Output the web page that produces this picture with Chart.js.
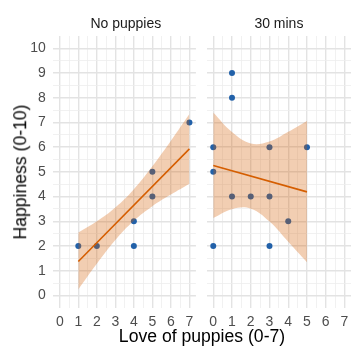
<!DOCTYPE html>
<html>
<head>
<meta charset="utf-8">
<script src="https://cdn.jsdelivr.net/npm/chart.js@4.4.1/dist/chart.umd.min.js"></script>
<style>
  html, body { margin: 0; padding: 0; background: #fff; }
  #wrap { position: relative; width: 360px; height: 360px; overflow: hidden; font-family: "Liberation Sans", Arial, sans-serif; }
  #wrap canvas { position: absolute; top: 0; }
  .lbl { position: absolute; white-space: nowrap; line-height: 1; }
  .strip { font-size: 14px; color: #1a1a1a; top: 15.7px; transform: translateX(-50%); }
  .title { font-size: 17.6px; color: #000; }
</style>
</head>
<body>
<div id="wrap">
  <canvas id="pupNone" width="200" height="360" style="left:0"></canvas>
  <canvas id="pup30" width="160" height="360" style="left:200px"></canvas>
  <div class="lbl strip" style="left:125.8px">No puppies</div>
  <div class="lbl strip" style="left:278.9px">30 mins</div>
  <div class="lbl title" style="left:202px; top:328.4px; transform:translateX(-50%)">Love of puppies (0-7)</div>
  <div class="lbl title" style="left:20.6px; top:172px; transform:translate(-50%,-50%) rotate(-90deg)">Happiness (0-10)</div>
</div>
<script>
// ─── DATA ───
const xTicks = [0, 1, 2, 3, 4, 5, 6, 7];
const yTicks = [0, 1, 2, 3, 4, 5, 6, 7, 8, 9, 10];

// panel: No puppies
const nonePts_love  = [1, 2, 4, 4, 5, 5, 7];
const nonePts_happy = [2, 2, 3, 2, 5, 4, 7];
const noneFit_x = [1, 7];
const noneFit_y = [1.37, 5.93];
const noneBand_x  = [1, 2, 3, 4, 5, 6, 7];
const noneBand_hi = [2.54, 3.00, 3.56, 4.30, 5.23, 6.26, 7.34];
const noneBand_lo = [0.24, 1.28, 2.24, 3.02, 3.61, 4.08, 4.52];

// panel: 30 mins
const minsPts_love  = [0, 0, 0, 1, 1, 1, 2, 3, 3, 3, 4, 5];
const minsPts_happy = [6, 5, 2, 9, 8, 4, 4, 6, 4, 2, 3, 6];
const minsFit_x = [0, 5];
const minsFit_y = [5.26, 4.19];
const minsBand_x  = [0, 1, 2, 3, 4, 5];
const minsBand_hi = [7.40, 6.61, 6.15, 6.23, 6.62, 7.06];
const minsBand_lo = [3.13, 3.49, 3.51, 2.99, 2.17, 1.34];

// ─── STYLE ───
const PT_COL = '#2261a9';
const FIT_COL = '#d55e00';
const BAND_COL = 'rgba(213,94,0,0.3)';
const TICK_FONT = { family: 'Liberation Sans', size: 14 };

const pairs = (xs, ys) => xs.map((x, i) => ({ x: x, y: ys[i] }));
const withMinor = arr => {
    const out = [];
    arr.forEach((v, i) => {
        out.push(v);
        if (i < arr.length - 1) out.push((v + arr[i + 1]) / 2);
    });
    return out;
};
const isMajor = v => Number.isInteger(v);

function gridOpts() {
    return {
        drawTicks: false,
        color: c => (c.tick && isMajor(c.tick.value)) ? '#e3e3e3' : '#ededed',
        lineWidth: c => (c.tick && isMajor(c.tick.value)) ? 1.4 : 0.8
    };
}

function makePanel(id, pts, fit, band, opts) {
    const xVals = withMinor(xTicks), yVals = withMinor(yTicks);
    return new Chart(document.getElementById(id), {
        type: 'scatter',
        data: {
            datasets: [
                { data: pts, backgroundColor: PT_COL, pointRadius: 3, borderWidth: 0, order: 3 },
                { data: band.hi, showLine: true, pointRadius: 0, borderWidth: 0, tension: 0.4,
                  fill: '+1', backgroundColor: BAND_COL, order: 2 },
                { data: band.lo, showLine: true, pointRadius: 0, borderWidth: 0, tension: 0.4,
                  fill: false, order: 2 },
                { data: fit, showLine: true, pointRadius: 0, borderColor: FIT_COL, borderWidth: 1.6, order: 1 }
            ]
        },
        options: {
            responsive: false,
            animation: false,
            events: [],
            layout: { padding: { top: 36, bottom: 0, left: opts.padLeft, right: opts.padRight } },
            plugins: { legend: { display: false }, tooltip: { enabled: false } },
            scales: {
                x: {
                    type: 'linear', min: -0.35, max: 7.35,
                    border: { display: false },
                    grid: gridOpts(),
                    afterBuildTicks: s => { s.ticks = xVals.map(v => ({ value: v })); },
                    afterFit: s => { s.height = 52.3; },
                    ticks: {
                        autoSkip: false, maxRotation: 0, padding: 6.5,
                        color: '#4d4d4d', font: TICK_FONT,
                        callback: v => isMajor(v) ? String(v) : ''
                    }
                },
                y: {
                    type: 'linear', min: -0.5, max: 10.5,
                    border: { display: false },
                    grid: gridOpts(),
                    afterBuildTicks: s => { s.ticks = yVals.map(v => ({ value: v })); },
                    afterFit: s => { s.width = opts.yWidth; },
                    ticks: {
                        display: opts.yLabels, autoSkip: false, padding: 7.5,
                        color: '#4d4d4d', font: TICK_FONT,
                        callback: v => isMajor(v) ? String(v) : ''
                    }
                }
            }
        }
    });
}

makePanel('pupNone',
    pairs(nonePts_love, nonePts_happy),
    pairs(noneFit_x, noneFit_y),
    { hi: pairs(noneBand_x, noneBand_hi), lo: pairs(noneBand_x, noneBand_lo) },
    { padLeft: 0, padRight: 1.7, yWidth: 53.3, yLabels: true });

makePanel('pup30',
    pairs(minsPts_love, minsPts_happy),
    pairs(minsFit_x, minsFit_y),
    { hi: pairs(minsBand_x, minsBand_hi), lo: pairs(minsBand_x, minsBand_lo) },
    { padLeft: 6.7, padRight: 9, yWidth: 0, yLabels: false });
</script>
</body>
</html>
